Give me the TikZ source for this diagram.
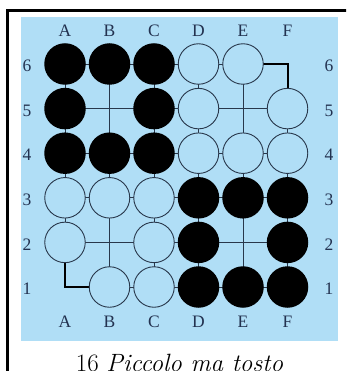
\documentclass[tikz,border=0pt]{standalone}
\usepackage{fontspec}
\newfontfamily\labfont{Liberation Serif}
\definecolor{boardblue}{RGB}{176,222,246}
\definecolor{linecol}{RGB}{40,55,75}
\definecolor{labcol}{RGB}{35,50,80}
\begin{document}
\begin{tikzpicture}[x=1pt,y=-1pt,
  stoneb/.style={circle,fill=black,minimum size=41.5pt,inner sep=0pt},
  stonew/.style={circle,draw=linecol,line width=0.9pt,fill=boardblue,minimum size=40.5pt,inner sep=0pt},
  gridline/.style={linecol,line width=0.7pt},
  edgeline/.style={black,line width=2pt},
  lab/.style={font=\labfont\fontsize{17.5}{17.5}\selectfont,text=labcol,inner sep=0pt},
  frameline/.style={black,line width=2.5pt}]
\useasboundingbox (0,0) rectangle (346,371);
\clip (0,0) rectangle (346,371);
\fill[white] (0,0) rectangle (346,371);
\coordinate (fb) at (7.5,390);
\coordinate (ftl) at (7.5,10.5);
\coordinate (fr) at (370,10.5);
\draw[frameline] (fb) -- (ftl) -- (fr);
\fill[boardblue] (21,17.5) rectangle (338,341);
\foreach \c [count=\i from 0] in {A,B,C,D,E,F}{
  \foreach \r in {1,...,6}{
    \coordinate (\c\r) at ({65+44.5*\i},{64+44.6*(6-\r)});
  }
}
\foreach \r in {1,...,6}{\draw[gridline] (A\r) -- (F\r);}
\foreach \c in {A,B,C,D,E,F}{\draw[gridline] (\c1) -- (\c6);}
\draw[edgeline] (E6) -- (F6) -- (F5);
\draw[edgeline] (A2) -- (A1) -- (B1);
% black stones
\foreach \p in {A6,B6,C6,A5,C5,A4,B4,C4,D3,E3,F3,D2,F2,D1,E1,F1}{
  \node[stoneb] (s\p) at (\p) {};
}
% white stones
\foreach \p in {D6,E6,D5,F5,D4,E4,F4,A3,B3,C3,A2,C2,B1,C1}{
  \node[stonew] (s\p) at (\p) {};
}
% labels
\foreach \c [count=\i from 0] in {A,B,C,D,E,F}{
  \node[lab] (t\c) at ({65+44.5*\i},30.5) {\c};
  \node[lab] (b\c) at ({65+44.5*\i},322) {\c};
}
\foreach \r in {1,...,6}{
  \node[lab] (l\r) at (27,{66+44.6*(6-\r)}) {\r};
  \node[lab] (r\r) at (329,{66+44.6*(6-\r)}) {\r};
}
\node[anchor=base,font=\fontsize{25}{30}\selectfont,inner sep=0pt] (cap) at (179.5,371) {16 \textit{Piccolo ma tosto}};
\end{tikzpicture}
\end{document}
